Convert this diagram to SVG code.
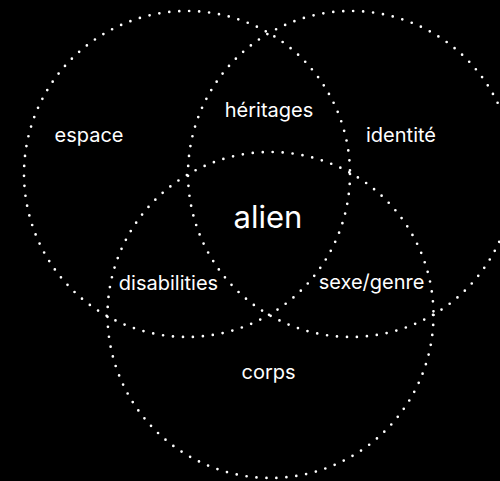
<svg xmlns="http://www.w3.org/2000/svg" width="500" height="481" viewBox="0 0 500 481">
<style>
.c{fill:none;stroke:#fff;stroke-width:2.7;stroke-linecap:round;stroke-dasharray:0 10}
.t{fill:#fff;font-family:Inter,"Liberation Sans",sans-serif;font-size:20px;text-anchor:middle}
.big{font-size:31px}
</style>
<rect width="500" height="481" fill="#000"/>
<g id="connectors"></g>
<g id="espace"><circle class="c" cx="187" cy="174" r="163"/><text class="t" x="89" y="142">espace</text></g>
<g id="identite"><circle class="c" cx="351" cy="174" r="163"/><text class="t" x="401" y="142">identité</text></g>
<g id="corps"><circle class="c" cx="270.5" cy="315" r="163"/><text class="t" x="268.5" y="379">corps</text></g>
<g id="heritages"><text class="t" x="269" y="117">héritages</text></g>
<g id="disabilities"><text class="t" x="168.5" y="290">disabilities</text></g>
<g id="sexegenre"><text class="t" x="371.5" y="289">sexe/genre</text></g>
<g id="alien"><text class="t big" x="268" y="228">alien</text></g>
</svg>
